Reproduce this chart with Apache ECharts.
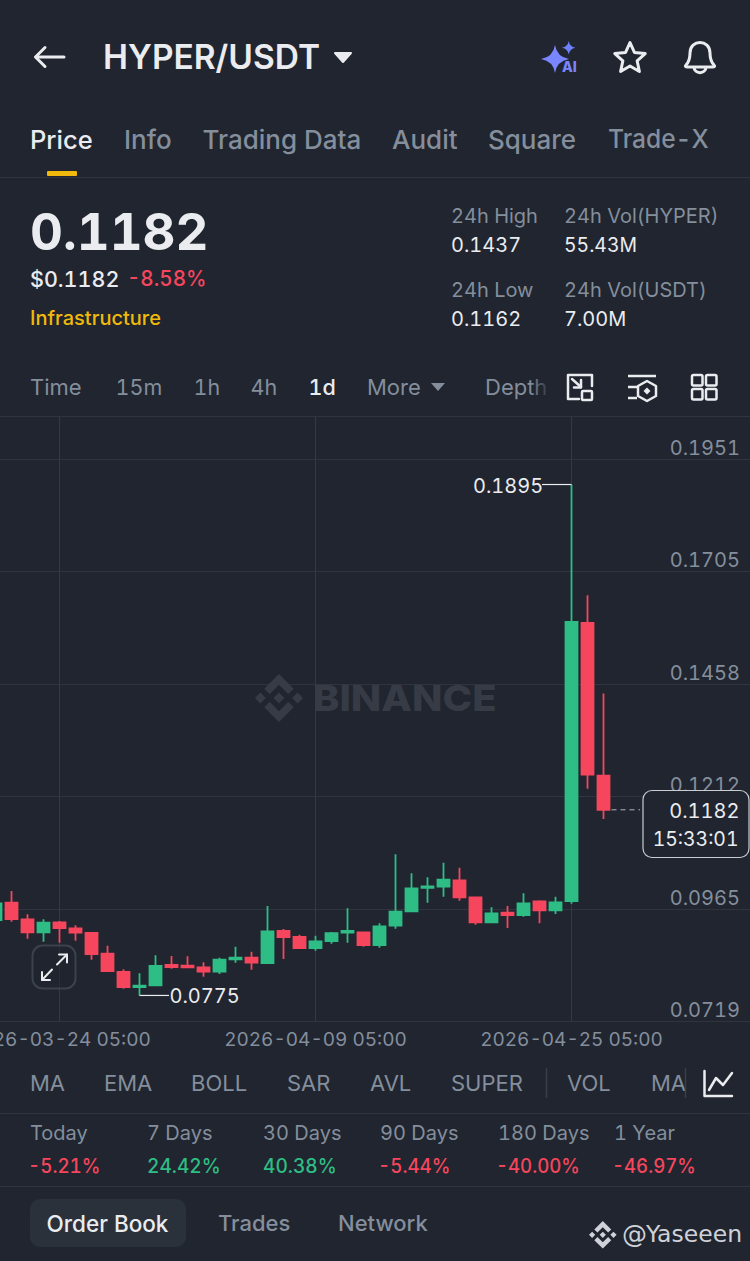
<!DOCTYPE html>
<html><head><meta charset="utf-8">
<style>html,body{margin:0;padding:0;background:#20252f}#c{width:750px;height:1261px}
svg text{font-variant-numeric:tabular-nums !important;font-feature-settings:"tnum" 1 !important}</style>
<script src="https://cdn.jsdelivr.net/npm/echarts@6/dist/echarts.min.js"></script>
</head><body><div id="c"></div>
<script>
const categories = ['2026-03-20','2026-03-21','2026-03-22','2026-03-23','2026-03-24','2026-03-25','2026-03-26','2026-03-27','2026-03-28','2026-03-29','2026-03-30','2026-03-31','2026-04-01','2026-04-02','2026-04-03','2026-04-04','2026-04-05','2026-04-06','2026-04-07','2026-04-08','2026-04-09','2026-04-10','2026-04-11','2026-04-12','2026-04-13','2026-04-14','2026-04-15','2026-04-16','2026-04-17','2026-04-18','2026-04-19','2026-04-20','2026-04-21','2026-04-22','2026-04-23','2026-04-24','2026-04-25','2026-04-26','2026-04-27','2026-04-28','2026-04-29','2026-04-30','2026-05-01','2026-05-02','2026-05-03','2026-05-04','2026-05-05','2026-05-06'];
const opens  = [.09404,.09783,.09419,.09134,.09354,.09222,.09119,.08665,.08264,.07935,.07973,.08418,.08402,.08367,.08271,.08543,.08578,.08461,.09163,.09031,.08790,.08944,.09126,.09134,.08856,.09279,.09595,.10106,.10134,.10274,.09902,.09354,.09564,.09514,.09814,.09617,.09821,.15915,.12568];
const closes = [.09770,.09426,.09134,.09345,.09229,.09126,.08659,.08286,.07935,.07964,.08396,.08374,.08367,.08271,.08534,.08578,.08468,.09156,.09031,.08790,.08937,.09113,.09163,.08856,.09266,.09586,.10099,.10143,.10288,.09902,.09354,.09551,.09514,.09770,.09617,.09792,.15937,.12589,.1182];
const lows   = [.09360,.09367,.08994,.08928,.08906,.08950,.08534,.08271,.07898,.0775,.07968,.08337,.08352,.08161,.08220,.08468,.08315,.08446,.08549,.08775,.08731,.08885,.08906,.08819,.08797,.09213,.09590,.09783,.09915,.09827,.09301,.09345,.09229,.09476,.09332,.09536,.09761,.12283,.1162];
const highs  = [.09821,.10040,.09529,.09419,.09382,.09288,.09141,.08841,.08323,.08236,.08630,.08615,.08608,.08477,.08578,.08819,.08709,.09711,.09207,.09082,.09060,.09141,.09661,.09134,.09332,.10844,.10428,.10340,.10660,.10551,.09908,.09683,.09711,.09989,.09836,.09915,.1895,.16522,.1437];
const yTicks = [0.1951,0.1705,0.1458,0.1212,0.0965,0.0719];
const xTickDates = ['2026-03-24','2026-04-09','2026-04-25'];
const lastPrice = 0.1182, countdown = '15:33:01', highLabel = '0.1895', lowLabel = '0.0775';
const yMin = 0.0719, yMax = 0.2043;

const BG='#20252f', GRID='#2f343e', GRAY='#848e9c', WHITE='#eaecef', RED='#f6465d', GREEN='#2ebd85', YEL='#f0b90b';
const FF='Inter, "Noto Sans", sans-serif';
const chart = echarts.init(document.getElementById('c'),null,{renderer:'svg'});
const labelled = i => xTickDates.includes(categories[i]);
chart.setOption({
  animation:false, backgroundColor:BG,
  grid:{left:-12.5,width:768,top:417,height:604,outerBoundsMode:'none',containLabel:false},
  xAxis:{type:'category',data:categories,boundaryGap:true,
    axisLine:{show:true,lineStyle:{color:GRID,width:1}},axisTick:{show:false},
    splitLine:{show:true,alignWithLabel:true,interval:labelled,lineStyle:{color:'#343943',width:1}},
    axisLabel:{interval:labelled,margin:9,color:GRAY,fontSize:19,fontFamily:FF,hideOverlap:false,formatter:v=>v+' 05:00'}},
  yAxis:{type:'value',min:yMin,max:yMax,position:'right',scale:true,
    axisLine:{show:false},
    axisTick:{show:false,customValues:yTicks},
    splitLine:{show:true,lineStyle:{color:GRID,width:1}},
    axisLabel:{inside:true,margin:15.5,color:GRAY,fontSize:20,fontFamily:FF,align:'right',verticalAlign:'bottom',lineHeight:22,customValues:yTicks,formatter:v=>v.toFixed(4)}},
  series:[{type:'candlestick',z:3,barWidth:12.5,
    data:opens.map((o,i)=>[o,closes[i],lows[i],highs[i]]),
    itemStyle:{color:GREEN,color0:RED,borderColor:GREEN,borderColor0:RED,borderWidth:1.8}}]
});

// ---- everything that is not a mark: page chrome
const T=(text,x,y,size,fill,weight,align,extra)=>({type:'text',x,y,z:20,silent:true,style:Object.assign({text,fill,font:`${weight||400} ${size}px ${FF}`,textAlign:align||'left',textVerticalAlign:'middle'},extra||{})});
const TS=(sx,...a)=>Object.assign(T(...a),{scaleX:sx});
const L=(x1,y1,x2,y2,stroke,w)=>({type:'line',z:20,silent:true,shape:{x1,y1,x2,y2},style:{stroke,lineWidth:w||1}});
const P=(points,stroke,w,close)=>({type:close?'polygon':'polyline',z:20,silent:true,shape:{points},style:{stroke,lineWidth:w||2.5,fill:close===2?stroke:'none',lineJoin:'round',lineCap:'round'}});
const R=(x,y,width,height,r,style,z)=>({type:'rect',z:z||20,silent:true,shape:{x,y,width,height,r},style});
let shapeNo=0;
const PATH=(d,x,y,scale,style,z)=>{const name='svgp'+(shapeNo++);echarts.graphic.registerShape(name,echarts.graphic.extendPath(d,{}));return {type:name,x,y,scaleX:scale,scaleY:scale,z:z||20,silent:true,style};};
const LOGO='M16.624 13.9202l2.7175 2.7154-7.353 7.353-7.353-7.352 2.7175-2.7164 4.6355 4.6595 4.6356-4.6595zm4.6366-4.6366L24 12l-2.7154 2.7164L18.5682 12l2.6924-2.7164zm-9.272.001l2.7163 2.6914-2.7164 2.7174v-.001L9.2721 12l2.7164-2.7154zm-9.2722-.001L5.4088 12l-2.6914 2.6924L0 12l2.7164-2.7164zM11.9885.0115l7.353 7.329-2.7174 2.7154-4.6356-4.6356-4.6355 4.6595-2.7174-2.7154 7.353-7.353z';
const SPARK='M14 0Q16 12 28 14Q16 16 14 28Q12 16 0 14Q12 12 14 0Z';
const star=(cx,cy,R1,R2)=>{const p=[];for(let i=0;i<10;i++){const r=i%2?R2:R1,a=-Math.PI/2+i*Math.PI/5;p.push([cx+r*Math.cos(a),cy+r*Math.sin(a)]);}return p;};

const px=(i,v)=>chart.convertToPixel({gridIndex:0},[i,v]);
const iHigh=highs.indexOf(Math.max(...highs)), iLow=lows.indexOf(Math.min(...lows)), iLast=closes.length-1;
const pH=px(iHigh,highs[iHigh]), pL=px(iLow,lows[iLow]), pC=px(iLast,lastPrice);

const els=[
  // header
  P([[36,57],[64,57]],WHITE,3), P([[45,47.5],[35.5,57],[45,66.5]],WHITE,3),
  T('HYPER/USDT',103,57,33.5,WHITE,600),
  {type:'polygon',z:20,silent:true,shape:{points:[[335,53],[351,53],[343,62]]},style:{fill:WHITE,stroke:WHITE,lineWidth:2,lineJoin:'round'}},
  PATH(SPARK,541,45,1,{fill:'#7a86ff'}), PATH(SPARK,562,41,0.48,{fill:'#6f80ff'}),
  T('AI',562,66,14,'#7a86ff',800),
  P(star(630,58.5,16,7.5),WHITE,3,1),
  PATH('M686 65C689 62 690 58 690 53C690 46 695 42.5 700 42.5C705 42.5 710 46 710 53C710 58 711 62 714 65C715 66 715 67 713 67H687C685 67 685 66 686 65ZM694 67C694 74.5 706 74.5 706 67',0,0,1,{fill:'none',stroke:WHITE,lineWidth:3,lineJoin:'round'}),
  // tabs
  T('Price',30,139,25.5,WHITE,500), T('Info',124,139,26,GRAY,500), T('Trading Data',202.5,139,26,GRAY,500),
  T('Audit',392,139,26,GRAY,500), T('Square',488,139,26,GRAY,500), TS(.945,'Trade-X',608,139,26,GRAY,500),
  R(47,171,30,5,1,{fill:YEL}), L(0,177.5,750,177.5,GRID),
  // price block
  T('0.1182',30,231,51,WHITE,700),
  T('$0.1182',30,278.5,21.5,WHITE,500), TS(.96,'-8.58%',127,278.5,21.5,RED,500),
  T('Infrastructure',30,318,20,YEL,500),
  T('24h High',451,216,20,GRAY), T('0.1437',451,245,20,WHITE),
  T('24h Low',451,290,20,GRAY), T('0.1162',451,319,20,WHITE),
  T('24h Vol(HYPER)',564,216,20,GRAY), TS(.97,'55.43M',564,245,20,WHITE),
  T('24h Vol(USDT)',564,290,20,GRAY), T('7.00M',564,319,20,WHITE),
  // time frames
  T('Time',30,386.5,22,GRAY), T('15m',115.5,386.5,21.5,GRAY), T('1h',193.5,386.5,21.5,GRAY), T('4h',250.5,386.5,21.5,GRAY),
  T('1d',308.5,386.5,21.5,WHITE,500), T('More',367,386.5,22,GRAY),
  {type:'polygon',z:20,silent:true,shape:{points:[[431,383],[445,383],[438,391]]},style:{fill:GRAY}},
  T('Depth',485,386.5,22,GRAY),
  R(530,368,36,38,0,{fill:new echarts.graphic.LinearGradient(0,0,1,0,[{offset:0,color:'rgba(32,37,47,0)'},{offset:.6,color:BG},{offset:1,color:BG}])},21),
  // toolbar icons
  P([[579,399],[568,399],[568,375],[592,375],[592,386]],WHITE,2.5), R(582,391,10,9,1,{fill:'none',stroke:WHITE,lineWidth:2.5}),
  P([[572,379],[581,387]],WHITE,2.5), P([[581,380],[581,387.5],[574,387.5]],WHITE,2.5),
  L(628,376,656,376,WHITE,2.5), L(628,387,637,387,WHITE,2.5), L(628,398,637,398,WHITE,2.5),
  {type:'polygon',z:20,silent:true,shape:{points:[[647,381],[656,386],[656,396],[647,401],[638,396],[638,386]]},style:{fill:'none',stroke:WHITE,lineWidth:2.5,lineJoin:'round'}},
  {type:'polygon',z:20,silent:true,shape:{points:[[647,387.5],[650.5,391],[647,394.5],[643.5,391]]},style:{fill:WHITE}},
  R(692,375,10.5,10.5,1.5,{fill:'none',stroke:WHITE,lineWidth:2.5}), R(706,375,10.5,10.5,1.5,{fill:'none',stroke:WHITE,lineWidth:2.5}),
  R(692,389,10.5,10.5,1.5,{fill:'none',stroke:WHITE,lineWidth:2.5}), R(706,389,10.5,10.5,1.5,{fill:'none',stroke:WHITE,lineWidth:2.5}),
  L(0,416.5,750,416.5,GRID),
  // watermark
  PATH(LOGO,255,674,2,{fill:'#363b46'},1),
  Object.assign(T('BINANCE',313,698,36,'#363b46',800,'left'),{scaleX:1.107,z:1}),
  // expand button
  R(32.5,945.5,43,43,10,{fill:'rgba(32,37,47,.6)',stroke:'#3c414c',lineWidth:2}),
  P([[42,980],[52,969.5]],WHITE,2), P([[42,972],[42,980],[50,980]],WHITE,2),
  P([[57,964.5],[67,954.5]],WHITE,2), P([[59,954.5],[67,954.5],[67,962.5]],WHITE,2),
  // high / low annotations, placed from the chart's own scales
  L(542,pH[1],pH[0],pH[1],WHITE,1.2), T(highLabel,473,pH[1]+1,20,WHITE),
  L(pL[0],pL[1],169,pL[1],WHITE,1.2), T(lowLabel,169.5,pL[1]+0.5,20,WHITE),
  // last price
  {type:'line',z:20,silent:true,shape:{x1:pC[0]+8,y1:pC[1],x2:640,y2:pC[1]},style:{stroke:'#b0b4bb',lineWidth:1,lineDash:[5,4]}},
  R(643,790.5,106,67,9,{fill:BG,stroke:'#c9ccd2',lineWidth:1.2},30),
  Object.assign(T(lastPrice.toFixed(4),739.5,811,20,WHITE,400,'right'),{z:31}),
  Object.assign(TS(.97,countdown,738.5,839,20,WHITE,400,'right'),{z:31}),
  // indicators
  T('MA',30,1083,22,GRAY), T('EMA',104,1083,22,GRAY), T('BOLL',191,1083,22,GRAY), T('SAR',287,1083,22,GRAY),
  T('AVL',370,1083,22,GRAY), T('SUPER',451,1083,22,GRAY), L(546.5,1068,546.5,1098,'#3a3f4a',1.5),
  T('VOL',567,1083,22,GRAY), T('MA',651,1083,22,GRAY), L(685.5,1068,685.5,1098,'#3a3f4a',1.5),
  P([[704.5,1071],[704.5,1096],[732,1096]],WHITE,2.5), P([[709,1090],[716,1078],[723,1085],[732,1073]],WHITE,2.5),
  L(0,1113.5,750,1113.5,GRID),
  // returns
  T('Today',30,1133,20,GRAY), T('7 Days',147,1133,20,GRAY), T('30 Days',263,1133,20,GRAY), T('90 Days',380,1133,20,GRAY), T('180 Days',498,1133,20,GRAY), T('1 Year',614,1133,20,GRAY),
  TS(.965,'-5.21%',28,1166,19.5,RED,500), TS(.98,'24.42%',147,1166,19.5,GREEN,500), TS(.98,'40.38%',263,1166,19.5,GREEN,500), TS(.965,'-5.44%',378,1166,19.5,RED,500), TS(.955,'-40.00%',496,1166,19.5,RED,500), TS(.955,'-46.97%',612,1166,19.5,RED,500),
  L(0,1186.5,750,1186.5,GRID),
  // tabs bottom
  R(30,1199,156,48,10,{fill:'#2b313b'}),
  T('Order Book',46.5,1223,22.5,WHITE,500), T('Trades',218,1223,22,GRAY,500), T('Network',338,1223,22,GRAY,500),
  PATH(LOGO,589,1221,1.15,{fill:'#cfd2d8'}),
  T('@',622,1234,24,'#cfd2d8',400,'left',{font:'400 25px "DejaVu Sans"'}), T('Yaseeen',646,1234,24,'#cfd2d8',400,'left',{font:'400 23.5px "DejaVu Sans"'})
];
chart.setOption({graphic:{elements:els}});
</script></body></html>
